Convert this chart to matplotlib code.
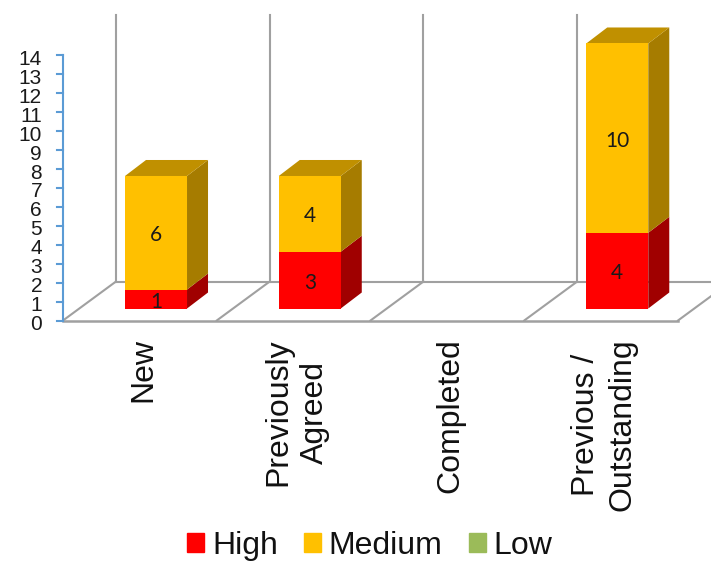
import matplotlib
matplotlib.use('Agg')
import matplotlib.pyplot as plt
from matplotlib.patches import Polygon, Patch

categories = ['New', 'Previously\nAgreed', 'Completed', 'Previous /\nOutstanding']
high = [1, 3, 0, 4]
medium = [6, 4, 0, 10]
low = [0, 0, 0, 0]
yticks = list(range(0, 15))

W, H = 711, 563
cat_px = 153.75     # pixels per category
val_px = 18.93      # pixels per unit
x0_px, y0_px = 63, 320.5

# fake 3d offsets, in data units
floor_dx, floor_dy = 53 / cat_px, 39 / val_px
bar_dx, bar_dy = 21 / cat_px, 16 / val_px
bar_lift = 12 / val_px
bar_w = 62 / cat_px
bar_off = 0.605
wall_top = (y0_px - 15) / val_px

fig = plt.figure(figsize=(W / 100, H / 100), dpi=100)
ax = fig.add_axes([0, 0, 1, 1])
ax.set_xlim(-x0_px / cat_px, (W - x0_px) / cat_px)
ax.set_ylim(-(H - y0_px) / val_px, y0_px / val_px)
ax.axis('off')

grey = '#a0a0a0'
n = len(categories)

# floor and back walls
for i in range(n + 1):
    ax.plot([i, i + floor_dx], [0, floor_dy], color=grey, lw=1.5, zorder=1)
    if i < n:
        ax.plot([i + floor_dx] * 2, [floor_dy, wall_top], color=grey, lw=1.5, zorder=1)
ax.plot([0, n], [0, 0], color=grey, lw=1.8, zorder=1)
ax.plot([floor_dx, n + floor_dx], [floor_dy, floor_dy], color=grey, lw=1.5, zorder=1)

# value axis
blue = '#5b9bd5'
ax.plot([0, 0], [0, yticks[-1]], color=blue, lw=1.5, zorder=2)
for t in yticks:
    ax.plot([-6 / cat_px, 0], [t, t], color=blue, lw=1.5, zorder=2)
    ax.text(-21 / cat_px, t - 4 / val_px, str(t), ha='right', va='center', fontsize=15,
            family='Liberation Sans', color='#1a1a1a')


def draw_segment(i, bottom, value, face, side, top=None):
    left = i + bar_off - bar_w / 2
    right = left + bar_w
    y1 = bottom + bar_lift
    y2 = y1 + value
    ax.bar(i + bar_off, value, bar_w, bottom=y1, color=face, zorder=4)
    ax.add_patch(Polygon([(right, y1), (right + bar_dx, y1 + bar_dy),
                          (right + bar_dx, y2 + bar_dy), (right, y2)],
                         facecolor=side, edgecolor='none', zorder=3))
    if top:
        ax.add_patch(Polygon([(left, y2), (left + bar_dx, y2 + bar_dy),
                              (right + bar_dx, y2 + bar_dy), (right, y2)],
                             facecolor=top, edgecolor='none', zorder=3))
    ax.text(i + bar_off, (y1 + y2) / 2 - 2.5 / val_px, str(value), ha='center', va='center',
            fontsize=15, family='Lato', color='#1a1a1a', zorder=5)


for i in range(n):
    if high[i]:
        draw_segment(i, 0, high[i], '#ff0000', '#a00000')
    if medium[i]:
        draw_segment(i, high[i], medium[i], '#ffc000', '#a67c00', '#c09000')

    ax.text(i + 0.52, -18 / val_px, categories[i], rotation=90, ha='center', va='top',
            multialignment='center', fontsize=23, family='Liberation Sans',
            color='#111111', linespacing=1.25)

handles = [Patch(color='#ff0000', label='High'),
           Patch(color='#ffc000', label='Medium'),
           Patch(color='#9bbb59', label='Low')]
ax.legend(handles=handles, ncol=3, loc='center', bbox_to_anchor=(370 / W, 1 - 546 / H),
          frameon=False, prop={'family': 'Liberation Sans', 'size': 23},
          handlelength=0.52, handleheight=0.52, handletextpad=0.25, columnspacing=0.83,
          labelcolor='#111111', borderpad=0, borderaxespad=0)

plt.savefig('out.png', dpi=100)
